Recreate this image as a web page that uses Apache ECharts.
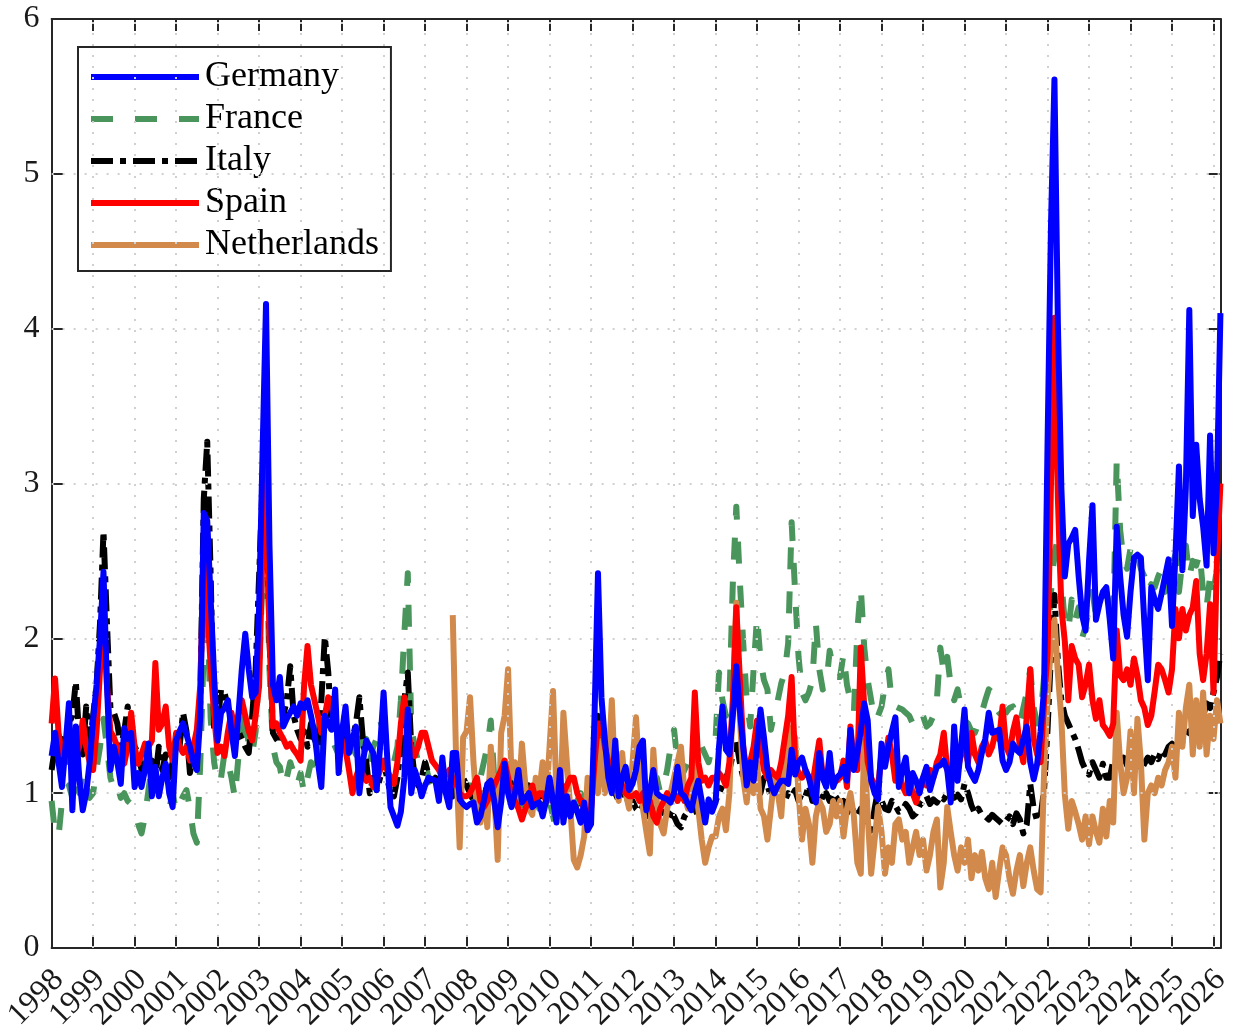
<!DOCTYPE html>
<html>
<head>
<meta charset="utf-8">
<title>Monthly series 1998–2026</title>
<script src="https://cdn.jsdelivr.net/npm/echarts@6/dist/echarts.min.js"></script>
<style>
  html, body { margin: 0; padding: 0; background: #fff; }
  #chart { width: 1234px; height: 1035px; }
</style>
</head>
<body>
<div id="chart"></div>
<script>
// Monthly observations, January 1998 to March 2026 (one row per year).
const firstYear = 1998;
const yearTicks = [1998, 1999, 2000, 2001, 2002, 2003, 2004, 2005, 2006, 2007, 2008, 2009, 2010, 2011,
  2012, 2013, 2014, 2015, 2016, 2017, 2018, 2019, 2020, 2021, 2022, 2023, 2024, 2025, 2026];
const valueTicks = [0, 1, 2, 3, 4, 5, 6];

const germany = [
  1.24,1.39,1.20,1.04,1.30,1.58,0.89,1.43,1.10,0.89,1.00,1.20,
  1.47,1.70,2.00,2.43,1.70,1.15,1.30,1.20,1.06,1.42,1.35,1.39,
  1.04,1.13,1.04,1.15,1.32,0.98,1.17,0.98,1.10,1.19,1.00,0.91,
  1.34,1.40,1.45,1.38,1.30,1.20,1.15,1.50,2.81,2.76,2.25,1.75,
  1.34,1.52,1.55,1.60,1.40,1.24,1.50,1.80,2.03,1.80,1.62,1.65,
  2.20,3.20,4.16,2.60,1.70,1.60,1.75,1.43,1.48,1.52,1.56,1.50,
  1.58,1.55,1.60,1.50,1.39,1.20,1.04,1.50,1.45,1.41,1.67,1.13,
  1.40,1.56,1.26,1.35,1.43,1.00,1.20,1.34,1.30,1.26,1.02,1.30,
  1.65,1.25,0.91,0.85,0.79,0.88,1.10,1.54,1.00,1.15,1.08,0.98,
  1.05,1.10,1.09,1.08,0.95,1.23,1.00,0.91,1.26,1.26,0.96,0.93,
  0.91,0.93,0.94,0.81,0.85,0.95,1.06,1.08,0.95,0.78,0.94,1.19,
  1.00,0.91,1.00,1.15,0.94,0.97,1.00,0.91,0.93,0.94,0.85,0.95,
  1.10,0.95,0.81,1.15,0.81,0.98,0.85,0.94,0.88,0.81,0.94,0.76,
  0.80,1.50,2.42,1.62,1.34,1.10,1.00,1.34,0.98,1.10,1.17,1.02,
  1.06,1.15,1.30,1.34,0.89,1.00,1.15,1.00,0.98,0.97,0.96,0.94,
  1.00,1.17,1.00,0.98,0.93,0.89,1.00,1.08,0.95,0.81,0.96,0.88,
  0.94,1.30,1.56,1.28,1.25,1.50,1.82,1.54,1.30,1.05,1.20,1.08,
  1.30,1.54,1.36,1.15,1.05,1.00,1.05,1.08,1.08,1.06,1.28,1.12,
  1.20,1.23,1.15,1.10,1.00,0.94,1.26,1.10,1.04,1.26,1.04,1.10,
  1.12,1.17,1.08,1.41,1.15,1.26,1.40,1.58,1.47,1.08,1.00,0.96,
  1.32,1.17,1.30,1.40,1.49,1.04,1.15,1.23,1.00,1.13,1.08,1.00,
  1.10,1.17,1.02,1.10,1.17,1.18,1.21,1.15,0.94,1.43,1.08,1.30,
  1.54,1.17,1.12,1.08,1.15,1.26,1.35,1.52,1.39,1.40,1.41,1.21,
  1.15,1.20,1.32,1.28,1.26,1.35,1.43,1.20,1.09,1.19,1.40,1.67,
  3.25,4.67,5.61,4.03,2.97,2.40,2.61,2.65,2.70,2.40,2.15,2.05,
  2.50,2.86,2.12,2.22,2.30,2.33,2.12,1.87,2.72,2.40,2.15,2.01,
  2.30,2.52,2.54,2.52,2.10,1.73,2.33,2.25,2.19,2.29,2.40,2.51,
  2.08,2.54,3.11,2.44,2.97,4.12,2.79,3.25,2.90,2.72,2.47,3.31,
  2.55,3.00,4.10
];

const france = [
  0.95,0.74,0.72,0.95,1.00,1.05,0.97,1.10,1.00,1.13,1.05,0.97,
  1.00,1.16,1.30,1.48,1.30,1.10,1.02,1.05,0.97,1.00,0.95,0.93,
  0.88,0.80,0.74,0.85,1.02,1.18,1.06,1.00,0.97,0.93,0.90,1.00,
  0.88,0.93,0.98,1.02,0.90,0.74,0.68,1.20,1.94,2.20,1.48,1.20,
  1.06,1.10,1.26,1.20,1.10,0.97,1.23,1.35,1.56,1.30,1.25,1.40,
  1.80,2.40,2.70,1.80,1.30,1.20,1.17,1.05,1.10,1.20,1.13,1.05,
  1.13,1.00,1.10,1.20,1.10,1.25,1.30,1.52,1.40,1.35,1.30,1.25,
  1.30,1.40,1.35,1.30,1.25,1.40,1.30,1.35,1.20,1.30,1.35,1.47,
  1.40,1.30,1.25,1.20,1.30,1.60,2.03,2.42,1.43,1.30,1.20,1.15,
  1.20,1.10,1.05,1.10,1.00,1.05,1.10,0.98,1.00,1.05,1.10,1.00,
  1.00,1.05,0.95,1.00,1.10,1.20,1.30,1.47,1.10,1.00,1.05,1.10,
  1.05,1.00,0.95,1.00,0.92,0.95,1.00,1.05,0.98,0.90,0.95,1.00,
  0.95,0.85,0.76,0.90,0.95,1.00,0.95,0.90,0.95,1.00,0.95,0.90,
  0.95,1.20,1.50,1.35,1.20,1.10,1.05,1.10,1.00,1.05,0.98,1.00,
  1.00,1.05,1.10,1.00,0.95,1.00,1.05,1.10,1.00,1.05,1.15,1.30,
  1.41,1.20,1.10,1.15,1.20,1.10,1.05,1.15,1.30,1.25,1.20,1.30,
  1.35,1.78,1.60,1.50,1.60,2.36,2.85,2.38,1.97,1.60,1.43,1.80,
  2.14,1.86,1.73,1.67,1.41,1.52,1.60,1.71,1.78,1.97,2.75,2.30,
  1.88,1.65,1.60,1.65,1.73,2.10,1.80,1.67,1.70,1.92,1.80,1.75,
  1.75,1.90,1.70,1.60,1.52,2.05,2.33,1.94,1.73,1.60,1.47,1.50,
  1.56,1.70,1.80,1.58,1.56,1.55,1.54,1.52,1.50,1.45,1.48,1.45,
  1.50,1.43,1.45,1.50,1.60,1.94,1.78,1.88,1.70,1.60,1.67,1.55,
  1.47,1.45,1.40,1.39,1.45,1.52,1.60,1.67,1.65,1.55,1.52,1.50,
  1.52,1.55,1.56,1.50,1.45,1.55,1.65,1.80,1.55,1.45,1.50,1.75,
  1.80,2.30,2.55,2.65,2.37,2.10,2.05,2.25,2.12,2.20,2.00,2.08,
  2.20,2.30,2.15,2.19,2.25,2.30,2.20,2.10,3.15,2.70,2.50,2.45,
  2.58,2.50,2.54,2.45,2.40,2.30,2.35,2.33,2.40,2.45,2.30,2.50,
  2.47,2.54,2.30,2.50,2.60,2.40,2.50,2.47,2.55,2.30,2.20,2.40,
  2.30,2.45,2.45
];

const italy = [
  1.15,1.30,1.20,1.35,1.25,1.45,1.50,1.72,1.35,1.25,1.56,1.30,
  1.50,1.70,2.10,2.69,2.10,1.55,1.52,1.45,1.30,1.40,1.56,1.40,
  1.30,1.26,1.15,1.30,1.20,1.21,1.10,1.30,1.15,1.25,1.10,1.20,
  1.35,1.30,1.52,1.40,1.13,1.25,1.20,1.60,2.90,3.27,2.40,1.41,
  1.45,1.67,1.65,1.55,1.50,1.45,1.40,1.35,1.30,1.26,1.50,1.80,
  2.40,3.00,3.10,2.00,1.39,1.35,1.32,1.50,1.60,1.82,1.50,1.41,
  1.35,1.40,1.30,1.45,1.35,1.30,1.60,2.01,1.78,1.39,1.45,1.35,
  1.32,1.40,1.30,1.35,1.45,1.62,1.35,1.20,1.00,1.10,1.02,1.10,
  1.20,1.10,1.00,0.98,1.10,1.30,1.60,1.78,1.30,1.10,1.05,1.10,
  1.20,1.12,1.05,1.10,1.00,1.05,1.06,1.00,0.98,1.05,1.00,1.10,
  1.05,1.00,0.95,1.00,0.92,0.98,1.05,1.10,1.00,0.95,1.05,1.10,
  1.15,1.05,1.00,1.10,0.95,1.00,1.05,0.98,0.95,1.00,0.90,0.95,
  1.00,0.95,0.90,1.00,0.95,1.05,0.90,0.95,0.88,0.90,0.95,0.92,
  0.95,1.10,1.50,1.40,1.20,1.10,1.05,1.00,0.95,1.00,1.00,0.92,
  0.95,0.90,0.88,0.92,0.85,0.90,0.88,0.92,0.90,0.85,0.88,0.86,
  0.85,0.80,0.78,0.85,0.88,0.95,0.90,0.85,0.88,0.92,0.95,0.90,
  0.95,1.00,1.05,1.10,1.15,1.25,1.34,1.20,1.10,1.05,1.10,1.00,
  1.05,1.00,1.10,1.05,0.98,1.00,1.05,1.00,0.95,1.00,0.98,1.02,
  0.95,1.00,0.98,1.05,0.95,1.00,0.92,0.98,1.00,0.95,1.00,0.97,
  0.91,0.95,0.87,0.92,0.88,0.85,0.90,0.82,0.80,0.76,0.90,1.02,
  0.95,0.90,0.89,0.95,0.92,0.88,0.89,0.93,0.90,0.85,0.87,0.92,
  0.95,0.98,0.93,0.96,0.94,0.98,0.96,1.00,1.02,0.97,0.99,0.96,
  1.06,1.00,0.92,0.87,0.90,0.86,0.85,0.83,0.86,0.84,0.82,0.80,
  0.82,0.85,0.80,0.87,0.83,0.74,0.80,1.06,0.90,0.82,0.85,1.02,
  1.41,1.90,2.28,1.85,1.60,1.50,1.45,1.40,1.35,1.28,1.20,1.15,
  1.12,1.20,1.15,1.10,1.19,1.10,1.10,1.21,1.15,1.20,1.23,1.18,
  1.17,1.20,1.19,1.15,1.19,1.23,1.20,1.25,1.22,1.28,1.25,1.30,
  1.32,1.30,1.35,1.33,1.36,1.40,1.38,1.45,1.42,1.50,1.58,1.55,
  1.65,1.75,1.90
];

const spain = [
  1.45,1.74,1.39,1.25,1.30,1.20,1.25,1.24,1.30,1.47,1.30,1.20,
  1.15,1.40,1.80,2.20,1.70,1.40,1.36,1.30,1.25,1.19,1.30,1.52,
  1.30,1.19,1.25,1.32,1.30,1.34,1.84,1.41,1.45,1.56,1.30,1.21,
  1.39,1.30,1.26,1.30,1.21,1.30,1.41,1.70,2.50,2.20,1.82,1.50,
  1.26,1.30,1.24,1.40,1.52,1.39,1.50,1.60,1.50,1.40,1.34,1.50,
  1.69,2.60,3.10,2.00,1.43,1.45,1.39,1.35,1.30,1.32,1.28,1.25,
  1.21,1.69,1.95,1.70,1.60,1.50,1.39,1.50,1.62,1.55,1.47,1.40,
  1.34,1.28,1.15,1.00,1.10,1.17,1.12,1.08,1.10,1.04,1.08,1.15,
  1.21,1.15,1.10,1.06,1.20,1.45,1.62,1.39,1.30,1.24,1.30,1.39,
  1.39,1.30,1.21,1.18,1.15,1.10,1.12,1.15,1.05,1.10,1.00,0.98,
  0.98,1.00,1.05,1.10,0.95,0.91,0.95,1.00,1.05,1.10,1.15,1.21,
  1.10,1.00,0.95,0.90,0.83,0.90,0.95,1.05,0.95,1.00,1.00,0.95,
  1.00,0.95,0.90,0.95,1.00,1.05,1.10,1.10,1.00,0.95,0.90,0.85,
  0.90,1.20,1.45,1.45,1.30,1.20,1.10,1.05,1.00,1.05,1.00,0.98,
  0.98,1.00,0.95,1.00,0.90,0.95,0.85,0.81,0.90,0.95,1.00,0.95,
  1.00,0.95,1.00,0.95,1.05,1.10,1.65,1.20,1.08,1.10,1.05,1.10,
  1.10,1.13,1.10,1.05,1.20,1.60,2.20,1.75,1.30,1.13,1.20,1.30,
  1.47,1.30,1.15,1.10,1.15,1.12,1.10,1.20,1.35,1.50,1.75,1.20,
  1.13,1.10,1.15,1.10,1.05,1.20,1.34,1.10,1.05,1.15,1.10,1.08,
  1.10,1.21,1.04,1.43,1.20,1.15,1.94,1.56,1.20,1.10,1.05,1.04,
  1.26,1.20,1.36,1.25,1.08,1.15,1.05,1.00,1.10,1.00,0.94,1.05,
  1.10,1.05,1.15,1.10,1.20,1.25,1.39,1.15,1.10,1.20,1.15,1.25,
  1.30,1.20,1.39,1.25,1.20,1.30,1.34,1.25,1.30,1.40,1.35,1.56,
  1.30,1.25,1.40,1.49,1.30,1.20,1.50,1.80,1.35,1.25,1.20,1.60,
  1.90,3.00,4.07,2.90,2.20,1.98,1.60,1.95,1.87,1.83,1.62,1.70,
  1.83,1.60,1.48,1.60,1.44,1.41,1.37,1.45,2.05,1.76,1.73,1.80,
  1.70,1.87,1.76,1.60,1.55,1.44,1.50,1.66,1.83,1.80,1.73,1.65,
  1.80,2.19,2.00,2.19,2.05,2.15,2.20,2.37,1.90,1.73,1.90,2.22,
  1.65,2.50,3.00
];

// Netherlands starts in September 2007
const netherlandsStart = { year: 2007, month: 9 };
const netherlands = [
  2.15,1.20,0.65,1.36,
  1.40,1.62,1.20,0.90,0.81,1.00,0.78,1.30,1.00,0.57,1.39,1.50,
  1.80,1.10,1.20,0.95,1.32,1.05,0.90,0.86,1.10,1.00,1.20,0.95,
  1.30,1.66,1.00,0.85,1.52,1.20,0.90,0.57,0.52,0.60,0.72,1.10,
  0.90,1.20,1.00,1.34,1.00,1.15,1.60,1.05,0.95,1.26,1.00,0.90,
  1.20,1.49,1.10,0.90,0.75,0.61,1.28,0.95,0.80,0.74,0.90,1.00,
  1.10,1.20,1.30,1.00,0.90,1.05,1.20,0.90,0.70,0.55,0.65,0.72,
  0.72,0.85,0.90,0.76,1.00,1.60,2.23,1.50,1.10,0.94,1.17,1.00,
  1.20,0.90,0.85,0.70,0.90,1.10,1.00,0.85,1.20,1.43,1.20,1.36,
  1.00,0.70,0.90,0.80,0.55,0.85,0.95,0.90,0.75,0.80,0.95,0.85,
  0.95,0.72,0.90,1.00,0.85,0.55,0.48,1.34,0.85,0.48,0.70,0.91,
  0.75,0.48,0.65,0.55,0.80,0.83,0.70,0.75,0.55,0.65,0.75,0.60,
  0.70,0.50,0.60,0.75,0.83,0.39,0.55,0.91,0.75,0.60,0.50,0.65,
  0.55,0.70,0.45,0.60,0.50,0.62,0.45,0.38,0.55,0.33,0.50,0.65,
  0.60,0.45,0.35,0.50,0.60,0.40,0.55,0.65,0.50,0.38,0.36,1.13,
  1.60,1.97,2.12,1.77,1.48,0.99,0.77,0.95,0.88,0.80,0.70,0.85,
  0.67,0.85,0.75,0.68,0.90,0.72,0.95,0.81,1.52,1.20,1.00,1.10,
  1.40,1.00,1.48,1.20,0.70,1.00,1.05,1.00,1.10,1.05,1.15,1.20,
  1.30,1.10,1.52,1.30,1.55,1.70,1.25,1.60,1.30,1.65,1.25,1.50,
  1.35,1.60,1.45
];

// month index -> fractional year on the time axis
function toPairs(values, startYear, startMonth) {
  const offset = (startYear - firstYear) * 12 + (startMonth - 1);
  return values.map((v, i) => [firstYear + (offset + i) / 12, v]);
}

const lastMonthIndex = germany.length - 1;
const xMax = firstYear + lastMonthIndex / 12;

const serif = 'Liberation Serif';
const axisColor = '#262626';
const labelColor = '#1a1a1a';
const lineW = 6;

const chart = echarts.init(document.getElementById('chart'), null, { renderer: 'canvas' });

const gridLines = yearTicks.slice(1).map(y => ({ xAxis: y }))
  .concat(valueTicks.slice(1, -1).map(v => ({ yAxis: v })));

function isWhole(v) { return Math.abs(v - Math.round(v)) < 1e-6; }

function frameAxis(extra) {
  return Object.assign({
    axisLine: { show: true, onZero: false, lineStyle: { color: axisColor, width: 2 } },
    axisTick: { show: true, inside: true, length: 12, lineStyle: { color: axisColor, width: 2 } },
    splitLine: { show: false }
  }, extra);
}

// rotated year labels; the first year sits on its own axis so that the
// overlap check between neighbouring rotated labels never drops a year
const yearLabelStyle = {
  rotate: 45, align: 'right', verticalAlign: 'top', margin: 20,
  lineHeight: 20, hideOverlap: false,
  fontFamily: serif, fontSize: 32, color: labelColor
};

const option = {
  animation: false,
  backgroundColor: '#ffffff',
  grid: { left: 48, right: 10, top: 19, bottom: 87, containLabel: false },
  legend: {
    orient: 'vertical',
    left: 78, top: 47,
    data: ['Germany', 'France', 'Italy', 'Spain', 'Netherlands'],
    itemWidth: 108, itemHeight: 14, itemGap: 6,
    padding: [12, 12, 8, 10],
    borderColor: axisColor, borderWidth: 2,
    backgroundColor: '#ffffff',
    itemStyle: { opacity: 0 },
    lineStyle: { width: lineW },
    textStyle: { fontFamily: serif, fontSize: 36, lineHeight: 35, color: '#000', padding: [0, 0, 0, 1] }
  },
  xAxis: [
    frameAxis({
      type: 'value', position: 'bottom', min: firstYear, max: xMax, interval: 1,
      axisLabel: Object.assign({}, yearLabelStyle, {
        showMinLabel: false, showMaxLabel: true,
        formatter: v => (isWhole(v) && Math.round(v) !== firstYear) ? String(Math.round(v)) : ''
      })
    }),
    frameAxis({
      type: 'value', position: 'top', min: firstYear, max: xMax, interval: 1,
      axisLabel: { show: false }
    }),
    {
      type: 'value', position: 'bottom', min: firstYear, max: xMax, interval: 1,
      axisLine: { show: false }, axisTick: { show: false }, splitLine: { show: false },
      axisLabel: Object.assign({}, yearLabelStyle, {
        showMinLabel: true, showMaxLabel: false,
        formatter: v => (Math.abs(v - firstYear) < 1e-6) ? String(firstYear) : ''
      })
    }
  ],
  yAxis: [
    frameAxis({
      type: 'value', position: 'left', min: 0, max: 6, interval: 1,
      axisLabel: { margin: 12, fontFamily: serif, fontSize: 32, color: labelColor }
    }),
    frameAxis({
      type: 'value', position: 'right', min: 0, max: 6, interval: 1,
      axisLabel: { show: false }
    })
  ],
  series: [
    {
      name: 'France', type: 'line', symbol: 'none', z: 2,
      data: toPairs(france, 1998, 1),
      itemStyle: { color: '#4a955b' },
      lineStyle: { color: '#4a955b', width: lineW, type: [22, 22], cap: 'butt', join: 'round' }
    },
    {
      name: 'Italy', type: 'line', symbol: 'none', z: 3,
      data: toPairs(italy, 1998, 1),
      itemStyle: { color: '#000000' },
      lineStyle: { color: '#000000', width: lineW, type: [22, 7, 6, 7], cap: 'butt', join: 'round' }
    },
    {
      name: 'Netherlands', type: 'line', symbol: 'none', z: 4,
      data: toPairs(netherlands, netherlandsStart.year, netherlandsStart.month),
      itemStyle: { color: '#d18a4c' },
      lineStyle: { color: '#d18a4c', width: lineW, join: 'round' }
    },
    {
      name: 'Spain', type: 'line', symbol: 'none', z: 5,
      data: toPairs(spain, 1998, 1),
      itemStyle: { color: '#ff0000' },
      lineStyle: { color: '#ff0000', width: lineW, join: 'round' }
    },
    {
      name: 'Germany', type: 'line', symbol: 'none', z: 6,
      data: toPairs(germany, 1998, 1),
      itemStyle: { color: '#0000ff' },
      lineStyle: { color: '#0000ff', width: lineW, join: 'round' }
    },
    {
      // dotted grid drawn above the data lines
      type: 'line', data: [], silent: true, z: 8,
      markLine: {
        silent: true, symbol: ['none', 'none'], label: { show: false },
        lineStyle: { type: [2, 9], color: '#d0d0d0', width: 2 },
        emphasis: { disabled: true },
        data: gridLines
      }
    }
  ]
};

chart.setOption(option);
</script>
</body>
</html>
